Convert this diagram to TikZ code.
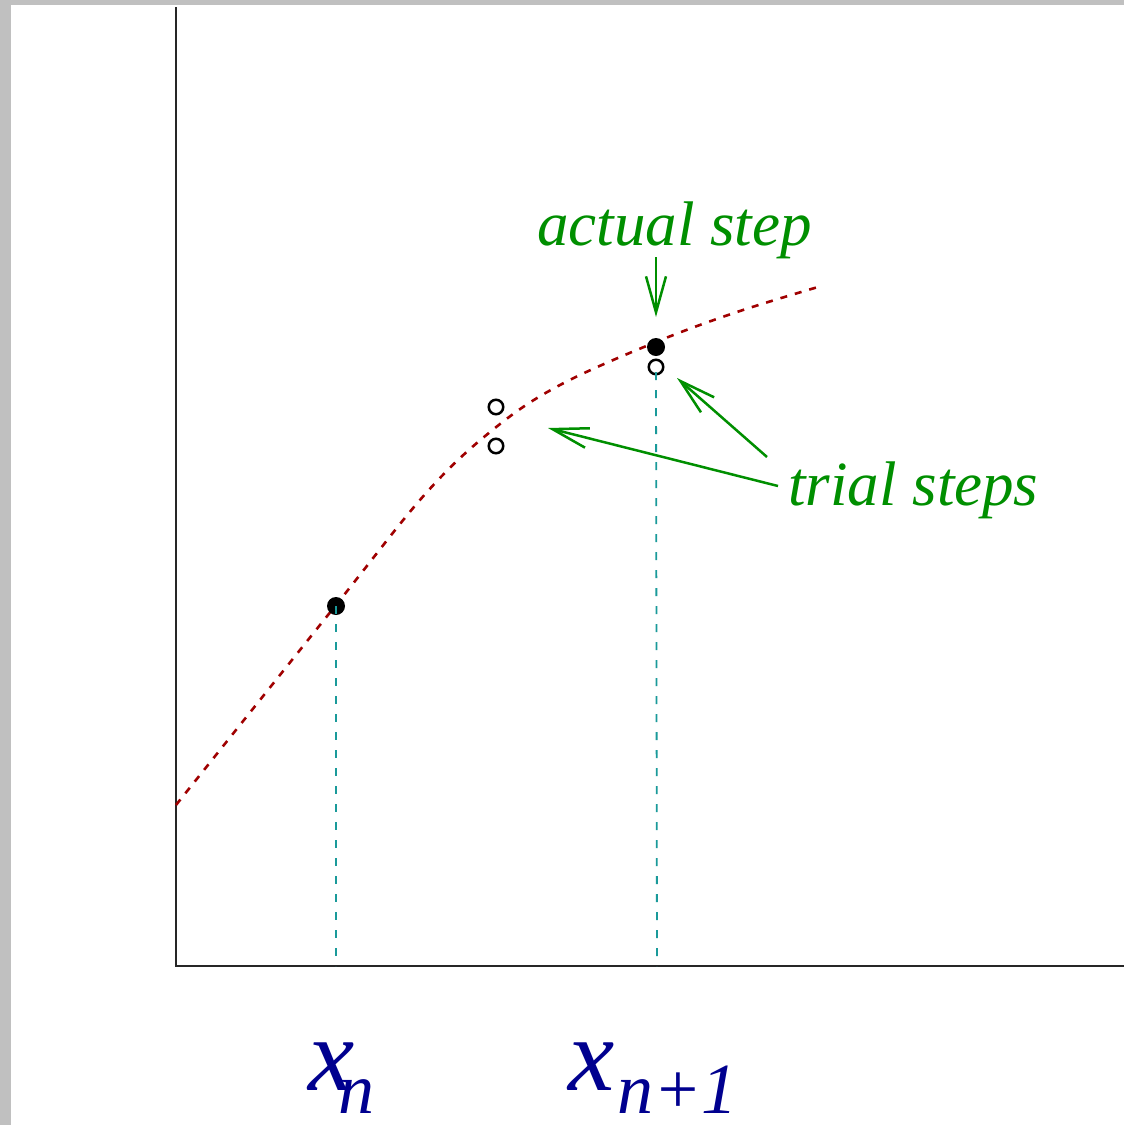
\documentclass[tikz,border=0pt]{standalone}
\usepackage{fontspec}
\setmainfont{Liberation Serif}
\usetikzlibrary{arrows.meta}
\definecolor{xgreen}{HTML}{008F00}
\definecolor{xred}{HTML}{A00000}
\definecolor{xcyan}{HTML}{1A9A9A}
\definecolor{xblue}{HTML}{00008F}
\definecolor{xgray}{HTML}{C0C0C0}
\begin{document}
\begin{tikzpicture}[x=1pt,y=-1pt,
  axisline/.style={line width=2pt, black!85},
  curveline/.style={xred, line width=2.6pt, dash pattern=on 7pt off 8pt},
  guide/.style={xcyan, line width=1.8pt, dash pattern=on 8pt off 10pt},
  soliddot/.style={circle, fill=black, minimum size=18pt, inner sep=0},
  opendot/.style={circle, draw=black, line width=2.5pt, minimum size=14.5pt, inner sep=0},
  pointer/.style={xgreen, line width=2.5pt, -{Straight Barb[length=36pt,width=20pt]}},
  greentext/.style={xgreen, inner sep=0, anchor=base west, font=\fontsize{63}{70}\selectfont\itshape},
  bigx/.style={xblue, inner sep=0, anchor=base west, font=\fontsize{104}{110}\selectfont\itshape},
  subx/.style={xblue, inner sep=0, anchor=base west, font=\fontsize{72}{80}\selectfont\itshape},
  ]
\useasboundingbox (0,0) rectangle (1124,1125);
\fill[xgray] (0,0) rectangle (1124,1125);
\fill[white] (11,5) rectangle (1124,1125);

% axes
\coordinate (top) at (176,7);
\coordinate (origin) at (176,966);
\coordinate (right) at (1124,966);
\draw[axisline] (top) -- (origin) -- (right);

% curve
\draw[curveline] plot[smooth, tension=0.6] coordinates
  {(176,805) (336,605) (427,492) (495,428) (560,385) (656,342) (737,312) (818,287)};

% points
\node[soliddot] (p1) at (336,606) {};
\node[soliddot] (p2) at (656,347) {};
\node[opendot] (q1) at (496,407) {};
\node[opendot] (q2) at (496,446) {};
\node[opendot] (q3) at (656,367) {};

% guide lines
\coordinate (b1) at (336,966);
\coordinate (b2) at (657,966);
\draw[guide] (p1.center) -- (b1);
\draw[guide] (q3.center |- 0,372) -- (b2);

% labels
\node[greentext] (act) at (537,245) {actual step};
\node[greentext] (trial) at (788,505) {trial steps};

% arrows
\coordinate (a0) at (656,257);
\coordinate (a1) at (656,317);
\draw[pointer] (a0) -- (a1);
\coordinate (t1) at (778,486);
\coordinate (h1) at (548,428);
\draw[pointer] (t1) -- (h1);
\coordinate (t2) at (767,457);
\coordinate (h2) at (677,378);
\draw[pointer] (t2) -- (h2);

% axis labels
\node[bigx] (xn) at (308,1090) {x};
\node[subx] (xnsub) at (338,1113) {n};
\node[bigx] (xn1) at (568,1090) {x};
\node[subx] (xn1sub) at (617,1113) {n+1};
\end{tikzpicture}
\end{document}
